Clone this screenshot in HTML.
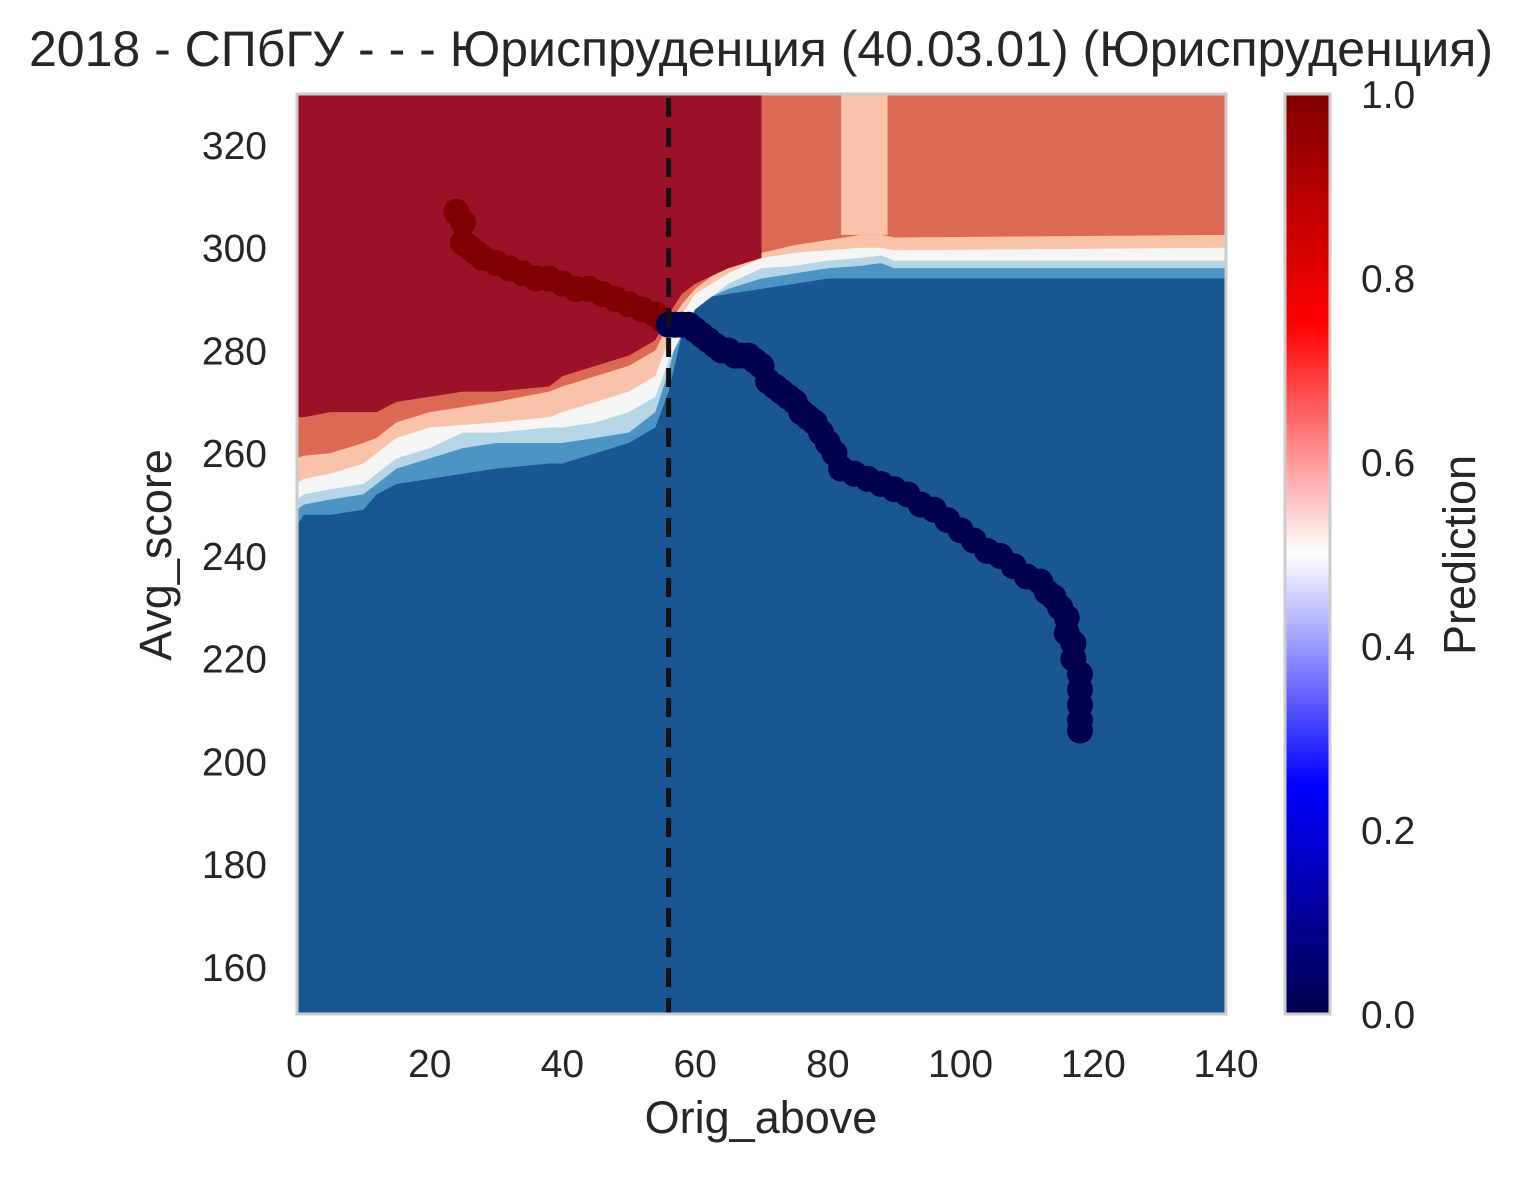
<!DOCTYPE html>
<html><head><meta charset="utf-8"><style>
body{margin:0;background:#fff}
svg text{font-family:"Liberation Sans",Arial,sans-serif;fill:#262626}
</style></head><body>
<svg id="chart" width="1524" height="1174" viewBox="0 0 1524 1174" xmlns="http://www.w3.org/2000/svg">
<defs>
<linearGradient id="seismic" x1="0" y1="1" x2="0" y2="0">
<stop offset="0" stop-color="#00004c"/><stop offset="0.25" stop-color="#0000ff"/>
<stop offset="0.5" stop-color="#ffffff"/><stop offset="0.75" stop-color="#ff0000"/>
<stop offset="1" stop-color="#800000"/></linearGradient>
<clipPath id="plotclip"><rect x="297" y="94" width="929" height="920"/></clipPath>
</defs>
<text x="761" y="66" font-size="50" text-anchor="middle">2018 - СПбГУ - - - Юриспруденция (40.03.01) (Юриспруденция)</text>
<g id="plot" clip-path="url(#plotclip)"></g>
<g id="axes"></g>
<rect x="297" y="94" width="929" height="920" fill="none" stroke="#cccccc" stroke-width="3"/>
<rect x="1285" y="94" width="45" height="920" fill="url(#seismic)" stroke="#cccccc" stroke-width="3"/>
<text x="761" y="1133" font-size="45" text-anchor="middle">Orig_above</text>
<text transform="translate(171,555) rotate(-90)" font-size="45" text-anchor="middle">Avg_score</text>
<text transform="translate(1475,555) rotate(-90)" font-size="45" text-anchor="middle">Prediction</text>
</svg>
<script>
const xTicks=[0,20,40,60,80,100,120,140];
const yTicks=[160,180,200,220,240,260,280,300,320];
const cbTicks=[0.0,0.2,0.4,0.6,0.8,1.0];
const cutoffX=56;
// contour level boundaries (x, avg_score)
const lvlX=[0,1,5,10,12,15,20,25,30,38,40,45,50,54,56,58,60,65,70,75,80,85,88,90,140];
const b1=[246,248,248,249,252,254,255,256,257,258,258,260,262,265,272,283,290,291,292,293,294,294,294,294,294];
const b2=[249,250,251,252,254,257,259,261,262,262,262,263,264,268,276,286,289,292,294,295,296,296.5,297,296,296];
const b3=[251,252,253,254,256,259,261,264,264,265,265,266,268,271,278,283,288,293,296,296.5,297.5,298,298.5,297.5,297.5];
const b4=[254,255,256,258,260,263,265,265.5,266,267,268,270,272,275,282,287,291,295,298,299,299.5,300,300,299.5,300];
const b5=[259,259.5,260,262,263,266,268,269,270,272,273,275,277,280,285,289,292,297,299,300.5,301.5,302.5,302.5,302,302.5];
const b6=[267,267,268,268,268,270,271,272,272,273,275,277,279,282,287,291,293,296,298];
const bandColors=["#4b94c4","#b6d6e8","#f5f5f5","#f8c3a8","#dc6954"];
const redX=[24,25,25,26,27,28,30,32,34,36,38,40,42,44,46,48,50,52,54,55];
const redY=[307,305,301,300,299,298,297,296,295,294,294,293,292,292,291,290,289,288,287,286];
const navyX=[56,57,58,59,60,61,62,63,64,65,66,67,68,69,70,71,72,73,74,75,76,77,78,79,80,81,82,84,86,88,90,92,94,96,98,100,102,104,106,108,110,112,113,114,115,116,116,117,117,118,118,118,118,118];
const navyY=[285,285,285,285,284,283,282,281,280,280,279,279,279,278,277,274,273,272,271,270,268,267,266,264,262,260,257,256,255,254,253,252,250,249,247,245,243,241,240,238,236,235,233,232,230,228,225,223,220,217,214,211,208,206];

const NS="http://www.w3.org/2000/svg";
const X=v=>297+v*(929/140);
const Y=v=>93.6+(330-v)*5.1375;
const plotG=document.getElementById('plot'), axesG=document.getElementById('axes');
function mk(tag,attrs,parent){const e=document.createElementNS(NS,tag);for(const k in attrs)e.setAttribute(k,attrs[k]);parent.appendChild(e);return e;}
function above(xs,ys){let d='M'+X(xs[0])+','+Y(340);for(let i=0;i<ys.length;i++)d+=' L'+X(xs[i])+','+Y(ys[i]);d+=' L'+X(xs[ys.length-1])+','+Y(340)+' Z';return d;}

const bgRect=mk('rect',{x:297,y:94,width:929,height:920,fill:'#1a5694'},plotG);


[b1,b2,b3,b4,b5].forEach((b,i)=>{
  const p=mk('path',{d:above(lvlX,b),fill:bandColors[i]},plotG);
  
  
});
const peachCol=mk('rect',{x:X(82),y:Y(340),width:X(89)-X(82),height:Y(302.5)-Y(340),fill:'#f8c3a8'},plotG);


const topRegion=mk('path',{d:above(lvlX,b6),fill:'#9b1127'},plotG);



redX.forEach((x,i)=>{const c=mk('circle',{cx:X(x),cy:Y(redY[i]),r:13,fill:'#800000'},plotG);

});
navyX.forEach((x,i)=>{const c=mk('circle',{cx:X(x),cy:Y(navyY[i]),r:13,fill:'#00004c'},plotG);

});

const dl=mk('line',{x1:X(cutoffX),x2:X(cutoffX),y1:98,y2:1014,stroke:'#111',"stroke-width":5,"stroke-dasharray":"19,11"},plotG);



xTicks.forEach(t=>{const e=mk('text',{x:X(t),y:1077,"font-size":39,"text-anchor":"middle"},axesG);e.textContent=t;

});
yTicks.forEach(t=>{const e=mk('text',{x:267,y:Y(t)+14,"font-size":39,"text-anchor":"end"},axesG);e.textContent=t;

});
cbTicks.forEach(t=>{const e=mk('text',{x:1361,y:1014-t*920+14,"font-size":39},axesG);e.textContent=t.toFixed(1);

});
</script>
</body></html>
